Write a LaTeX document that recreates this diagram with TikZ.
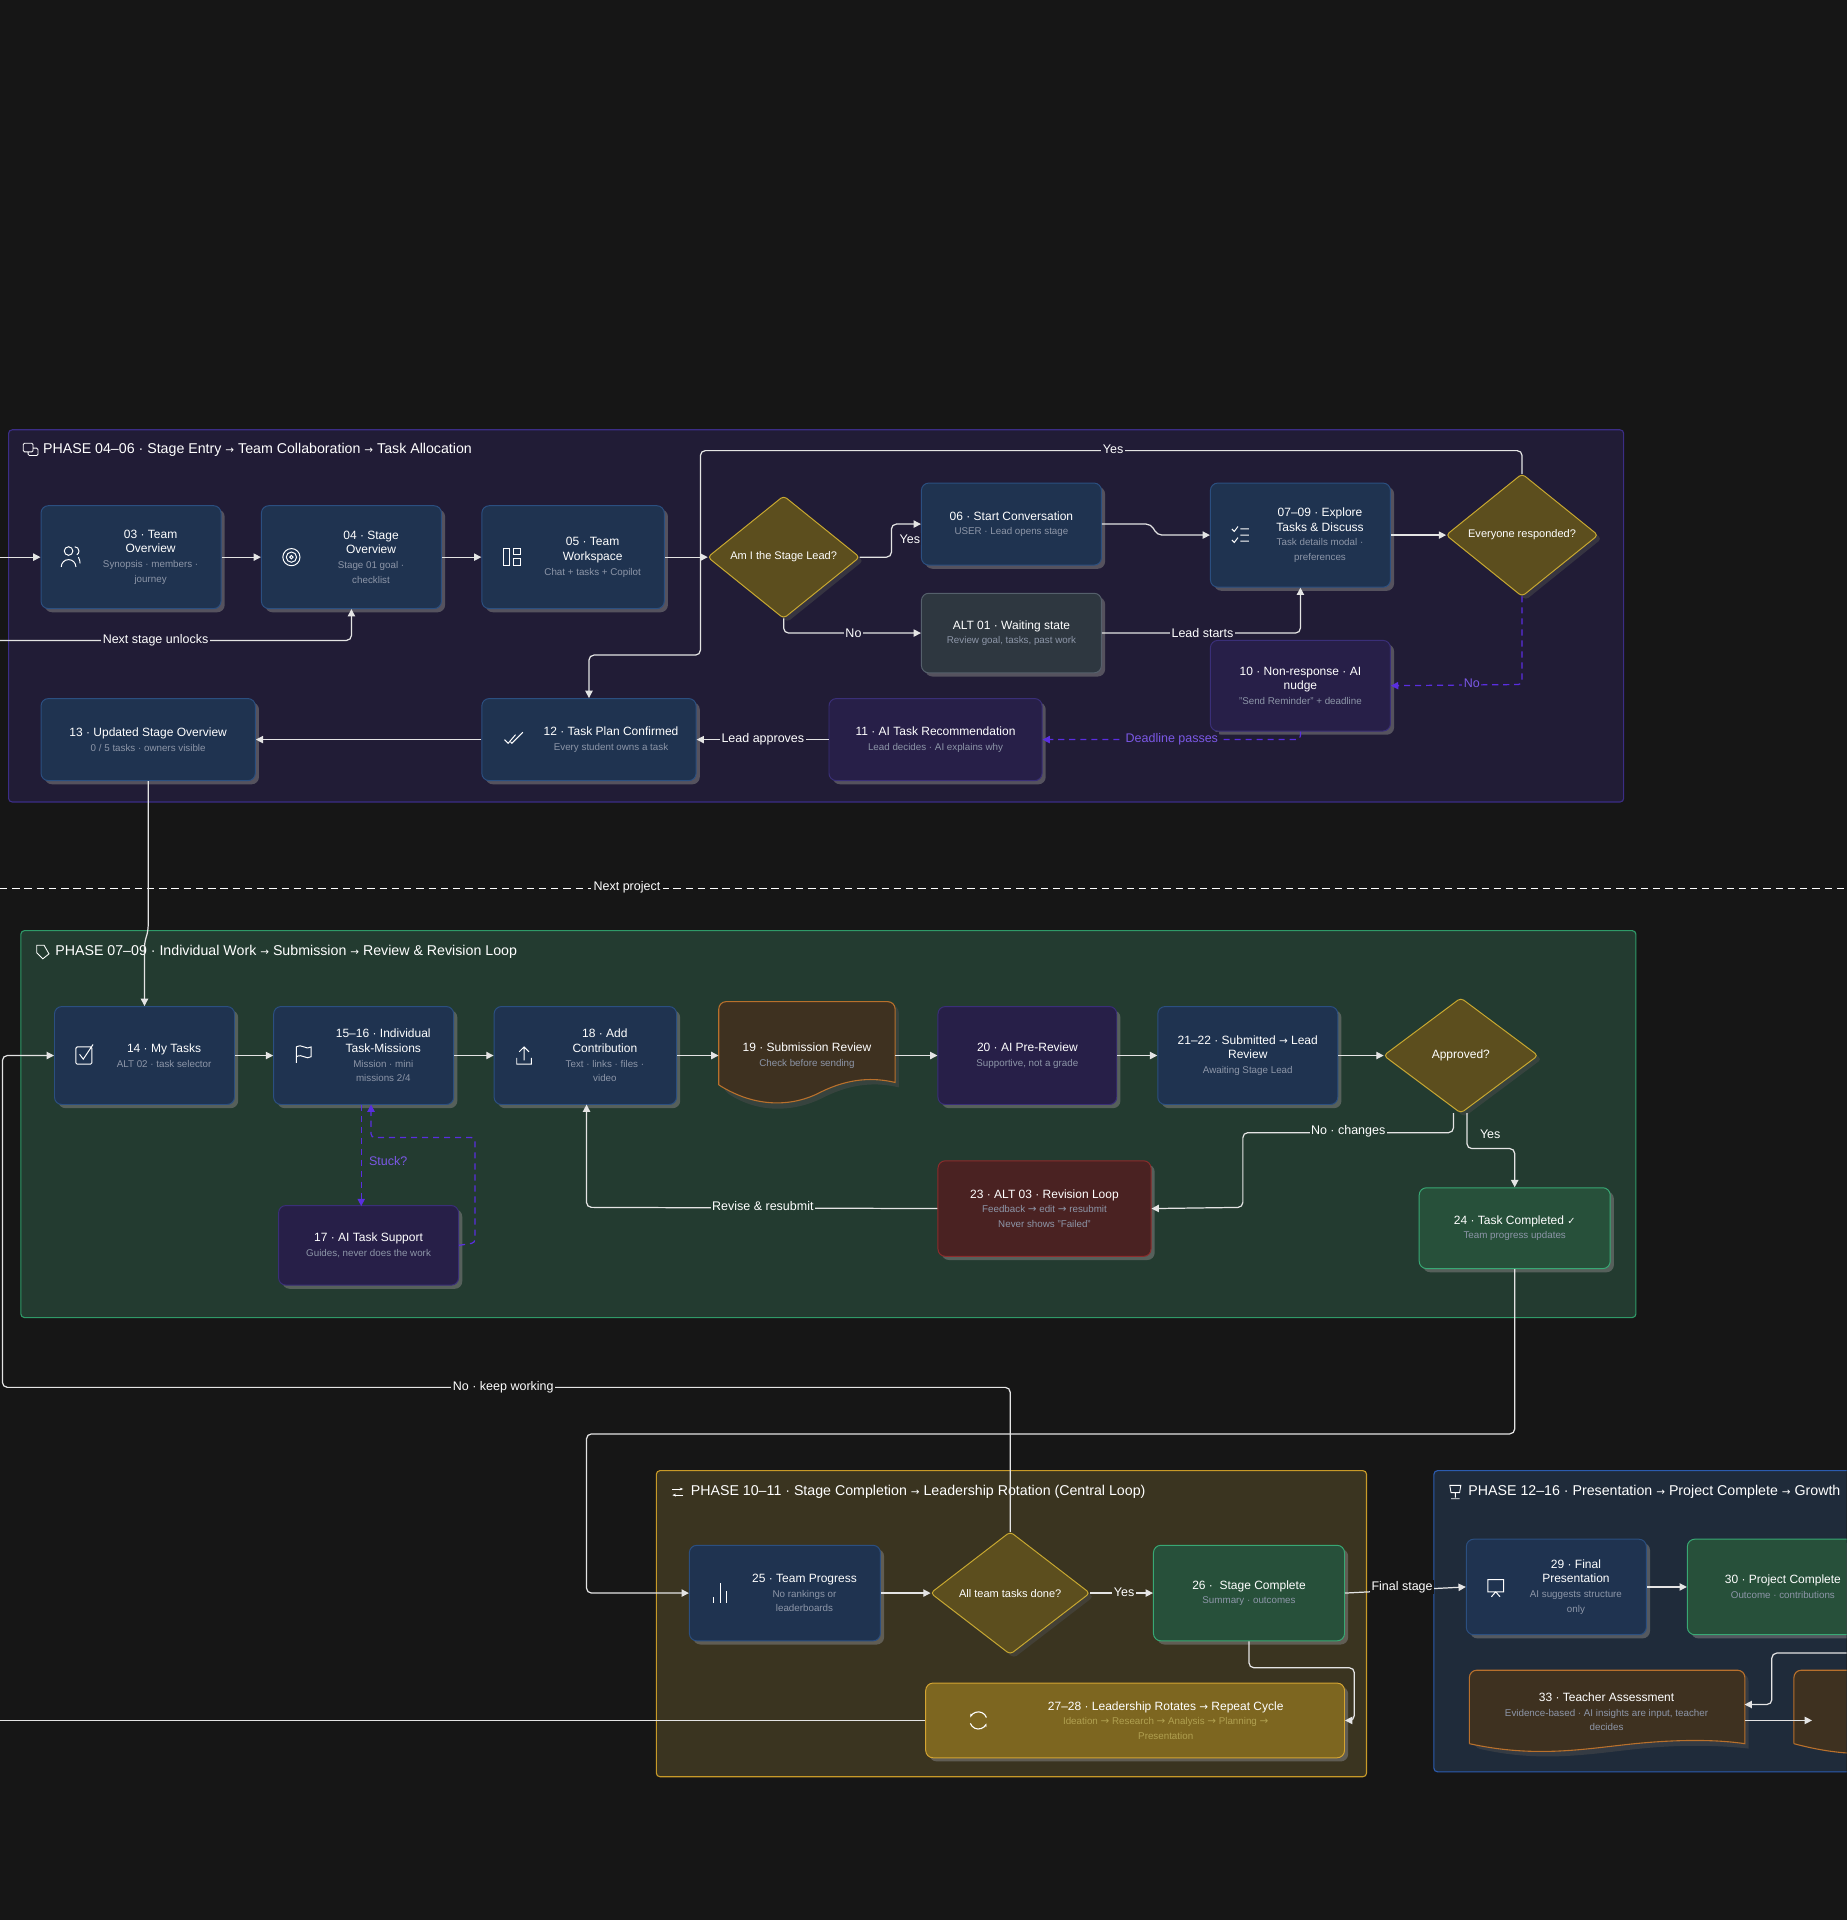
\documentclass[tikz,border=0pt]{standalone}
\usepackage{fontspec}
\setmainfont{Liberation Sans}
\newfontfamily\djv{DejaVu Sans}
\usetikzlibrary{arrows.meta,shadows,calc}
\definecolor{bg}{HTML}{161616}
\definecolor{pafill}{HTML}{211C36}\definecolor{padraw}{HTML}{3B2D86}
\definecolor{pbfill}{HTML}{233B30}\definecolor{pbdraw}{HTML}{2F9A68}
\definecolor{pcfill}{HTML}{3A3420}\definecolor{pcdraw}{HTML}{C89A28}
\definecolor{pdfill}{HTML}{1F2B3A}\definecolor{pddraw}{HTML}{2C5CB0}
\definecolor{blf}{HTML}{1F3350}\definecolor{bld}{HTML}{2B4F80}
\definecolor{grf}{HTML}{2E3740}\definecolor{grd}{HTML}{55606C}
\definecolor{puf}{HTML}{271F48}\definecolor{pud}{HTML}{3A2F78}
\definecolor{dif}{HTML}{5C4E1E}\definecolor{did}{HTML}{C8A830}
\definecolor{brf}{HTML}{3E3120}\definecolor{brd}{HTML}{B8702C}
\definecolor{rdf}{HTML}{4A2222}\definecolor{rdd}{HTML}{8C2C2C}
\definecolor{gnf}{HTML}{27503A}\definecolor{gnd}{HTML}{38A874}
\definecolor{gof}{HTML}{7D6620}\definecolor{god}{HTML}{D4A432}
\definecolor{subc}{HTML}{8D96A8}\definecolor{gosub}{HTML}{B0A050}
\definecolor{ln}{HTML}{E4E4E4}\definecolor{dash}{HTML}{5A2EE0}
\newcommand\subt[1]{{\fontsize{8}{10}\selectfont\color{subc}#1}}
\newcommand\gsub[1]{{\fontsize{8}{10}\selectfont\color{gosub}#1}}
\newcommand\rarr{{\djv\fontsize{8.5}{9}\selectfont →}}
\newcommand\card[7]{\node[card,#2,minimum width=#4,minimum height=#5] (#1) at #3 {};
  \node[txt,xshift=#7] (#1t) at (#1.center) {#6};}
\newcommand\dia[6]{\coordinate (#1) at (#2,#3);
  \coordinate (#1n) at (#2,#3-#5);\coordinate (#1s) at (#2,#3+#5);
  \coordinate (#1e) at (#2+#4,#3);\coordinate (#1w) at (#2-#4,#3);
  \fill[black!70,opacity=.5,rounded corners=3] ($(#1n)+(3,3)$) -- ($(#1e)+(3,3)$) -- ($(#1s)+(3,3)$) -- ($(#1w)+(3,3)$) -- cycle;
  \draw[fill=dif,draw=did,line width=.8,rounded corners=3] (#1n) -- (#1e) -- (#1s) -- (#1w) -- cycle;
  \node[txt] (#1t) at (#1) {#6};}
\tikzset{
  card/.style={draw, line width=.8, rounded corners=6, drop shadow={opacity=.55,shadow xshift=3,shadow yshift=3}},
  blue/.style={fill=blf,draw=bld}, gray/.style={fill=grf,draw=grd}, purp/.style={fill=puf,draw=pud},
  redc/.style={fill=rdf,draw=rdd}, grn/.style={fill=gnf,draw=gnd}, gold/.style={fill=gof,draw=god},
  txt/.style={text=white, align=center, font=\fontsize{9.8}{12}\selectfont, inner sep=0},
  phase/.style={line width=.9, rounded corners=3},
  ptitle/.style={text=white!90, anchor=west, font=\fontsize{11.6}{13}\selectfont, inner sep=0},
  arr/.style={draw=ln, line width=1, rounded corners=4, -{Triangle[length=6,width=6]}},
  lin/.style={draw=ln, line width=1, rounded corners=4},
  darr/.style={draw=dash, line width=1, dash pattern=on 5pt off 4pt, rounded corners=3, -{Triangle[length=6,width=6]}},
  lbl/.style={text=white, font=\fontsize{10.2}{12}\selectfont, inner sep=1.2},
  dlbl/.style={text=dash!80!white, font=\fontsize{10.2}{12}\selectfont, inner sep=1.2},
}
\begin{document}
\begin{tikzpicture}[x=1pt,y=-1pt]
\fill[bg] (0,0) rectangle (1508,1568);
\useasboundingbox (0,0) rectangle (1508,1568);
\clip (0,0) rectangle (1508,1568);
% ---------- phase boxes
\draw[phase,fill=pafill,draw=padraw] (7,351) rectangle (1326,655);
\node[ptitle] (pt1) at (35,367) {PHASE 04–06 · Stage Entry \rarr\ Team Collaboration \rarr\ Task Allocation};
\draw[phase,fill=pbfill,draw=pbdraw] (17,760) rectangle (1336,1076);
\node[ptitle] (pt2) at (45,777) {PHASE 07–09 · Individual Work \rarr\ Submission \rarr\ Review \& Revision Loop};
\draw[phase,fill=pcfill,draw=pcdraw] (536,1201) rectangle (1116,1451);
\node[ptitle] (pt3) at (564,1218) {PHASE 10–11 · Stage Completion \rarr\ Leadership Rotation (Central Loop)};
\draw[phase,fill=pdfill,draw=pddraw] (1171,1201) rectangle (1540,1447);
\node[ptitle] (pt4) at (1199,1218) {PHASE 12–16 · Presentation \rarr\ Project Complete \rarr\ Growth};
% small title icons
\draw[white!80,line width=.7,rounded corners=1] (19,362) rectangle (27,369) (23,369) -- (23,372) -- (31,372) -- (31,366) -- (27,366);
\draw[white!80,line width=.7] (30,772) -- (36,772) -- (40,779) -- (35,783) -- (30,778) -- cycle;
\draw[white!80,line width=.7,-{Stealth[length=3]}] (549,1216) -- (558,1216);
\draw[white!80,line width=.7,-{Stealth[length=3]}] (558,1221) -- (549,1221);
\draw[white!80,line width=.7] (1184,1213) -- (1193,1213) -- (1192,1219) -- (1185,1219) -- cycle (1188.5,1219) -- (1188.5,1223) (1185,1224) -- (1192,1224);
% separator
\draw[white!55,line width=.8,dash pattern=on 6pt off 4pt] (0,726) -- (1508,726);
\node[text=white!60,font=\fontsize{10.2}{12}\selectfont,fill=bg,inner sep=2] (sep) at (512,725) {Next project};
% ---------- phase 1 nodes
\card{n03}{blue}{(107,455)}{147}{84}{03 · Team\\Overview\\\subt{Synopsis · members ·}\\\subt{journey}}{16}
\card{n04}{blue}{(287,455)}{147}{84}{04 · Stage\\Overview\\\subt{Stage 01 goal ·}\\\subt{checklist}}{16}
\card{n05}{blue}{(468,455)}{149}{84}{05 · Team\\Workspace\\\subt{Chat + tasks + Copilot}}{16}
\dia{d1}{640}{455}{62}{50}{\fontsize{9}{10}\selectfont Am I the Stage Lead?}
\card{n06}{blue}{(826,428)}{147}{67}{06 · Start Conversation\\\subt{USER · Lead opens stage}}{0}
\card{alt01}{gray}{(826,517)}{147}{65}{ALT 01 · Waiting state\\\subt{Review goal, tasks, past work}}{0}
\card{n0709}{blue}{(1062,437)}{147}{85}{07–09 · Explore\\Tasks \& Discuss\\\subt{Task details modal ·}\\\subt{preferences}}{16}
\dia{d2}{1243}{437}{62}{50}{\fontsize{9}{10}\selectfont Everyone responded?}
\card{n10}{purp}{(1062,560)}{147}{74}{10 · Non-response · AI\\nudge\\\subt{"Send Reminder" + deadline}}{0}
\card{n11}{purp}{(764,604)}{174}{67}{11 · AI Task Recommendation\\\subt{Lead decides · AI explains why}}{0}
\card{n12}{blue}{(481,604)}{175}{67}{12 · Task Plan Confirmed\\\subt{Every student owns a task}}{18}
\card{n13}{blue}{(121,604)}{175}{67}{13 · Updated Stage Overview\\\subt{0 / 5 tasks · owners visible}}{0}
% icons phase1
\draw[white!85,line width=.8] (56,450) circle (3.5) (50,463) arc (180:360:6 and 6);
\draw[white!85,line width=.8] (61,446.5) arc (-90:60:3.5) (64,455) arc (-40:0:6 and 8);
\draw[white!85,line width=.8] (238,455) circle (7) (238,455) circle (4.2) (238,455) circle (1.4);
\draw[white!85,line width=.8] (411,448) rectangle (416,462) (419,448) rectangle (425,453) (419,456) rectangle (425,462);
\draw[white!85,line width=.8] (1006,432) -- (1008,434) -- (1011,430) (1006,441) -- (1008,443) -- (1011,439) (1013,432) -- (1020,432) (1013,437) -- (1020,437) (1013,442) -- (1020,442);
\draw[white!85,line width=.8] (412,604) -- (415,607) -- (421,600) (417,606) -- (418,607) -- (427,598);
% ---------- phase 1 edges
\coordinate (in1) at (0,455); \coordinate (in2) at (0,523);
\draw[arr] (in1) -- (n03);
\draw[arr] (n03) -- (n04);
\draw[arr] (n04) -- (n05);
\draw[arr] (n05) -- (d1w);
\draw[arr] (d1e) -- (728,455) -- (728,428) -- (n06.west);
\draw[arr] (d1s) -- (640,517) -- (alt01.west);
\draw[arr] (n06.east) -- (940,428) -- (945,437) -- (n0709.west);
\draw[arr] (alt01.east) -- (1062,517) -- (n0709.south);
\draw[arr] (n0709) -- (d2w);
\draw[arr] (d2n) -- (1243,368) -- (572,368) -- (572,535) -- (481,535) -- (n12.north);
\draw[darr] (d2s) -- (1243,559) -- (n10.east);
\draw[darr] (n10.south) -- (1062,604) -- (n11.east);
\draw[arr] (n11) -- (n12);
\draw[arr] (n12) -- (n13);
\draw[arr] (in2) -- (287,523) -- (n04.south);
\node[lbl,fill=pafill] (l1) at (743,440) {Yes};
\node[lbl,fill=pafill] (l2) at (697,517) {No};
\node[lbl,fill=pafill] (l3) at (982,517) {Lead starts};
\node[lbl,fill=pafill] (l4) at (909,367) {Yes};
\node[dlbl,fill=pafill] (l5) at (1202,558) {No};
\node[dlbl,fill=pafill] (l6) at (957,604) {Deadline passes};
\node[lbl,fill=pafill] (l7) at (623,604) {Lead approves};
\node[lbl,fill=pafill] (l8) at (127,523) {Next stage unlocks};
% ---------- phase 2 nodes
\card{n14}{blue}{(118,862)}{147}{80}{14 · My Tasks\\\subt{ALT 02 · task selector}}{16}
\card{n1516}{blue}{(297,862)}{147}{80}{15–16 · Individual\\Task-Missions\\\subt{Mission · mini}\\\subt{missions 2/4}}{16}
\card{n18}{blue}{(478,862)}{149}{80}{18 · Add\\Contribution\\\subt{Text · links · files ·}\\\subt{video}}{16}
\node[inner sep=0,minimum width=144,minimum height=72] (n19) at (659,854) {};
\fill[black!70,opacity=.5] (590,821) [rounded corners=6] -- (590,890) [sharp corners] .. controls (620,910) and (650,908) .. (673,896) .. controls (697,884) and (717,884) .. (734,888) [rounded corners=6] -- (734,821) -- cycle;
\draw[fill=brf,draw=brd,line width=.9] (587,886) [rounded corners=6] -- (587,818) -- (731,818) [sharp corners] -- (731,884) .. controls (714,880) and (694,880) .. (670,892) .. controls (647,904) and (617,905) .. (587,886);
\node[txt] (n19t) at (659,862) {19 · Submission Review\\\subt{Check before sending}};
\card{n20}{purp}{(839,862)}{146}{80}{20 · AI Pre-Review\\\subt{Supportive, not a grade}}{0}
\card{n2122}{blue}{(1019,862)}{147}{80}{21–22 · Submitted \rarr\ Lead\\Review\\\subt{Awaiting Stage Lead}}{0}
\dia{d3}{1193}{862}{63}{47}{Approved?}
\card{n23}{redc}{(853,987)}{174}{78}{23 · ALT 03 · Revision Loop\\\subt{Feedback \rarr\ edit \rarr\ resubmit}\\\subt{Never shows "Failed"}}{0}
\card{n24}{grn}{(1237,1003)}{156}{66}{24 · Task Completed {\djv\fontsize{8}{9}\selectfont ✓}\\\subt{Team progress updates}}{0}
\card{n17}{purp}{(301,1017)}{147}{65}{17 · AI Task Support\\\subt{Guides, never does the work}}{0}
% icons phase2
\draw[white!85,line width=.8,rounded corners=1] (62,855) rectangle (75,869);
\draw[white!85,line width=.8] (65,861) -- (68,865) -- (76,853);
\draw[white!85,line width=.8] (242,868) -- (242,855) .. controls (247,852) and (250,858) .. (254,855) -- (254,863) .. controls (250,866) and (247,860) .. (242,863);
\draw[white!85,line width=.8] (422,864) -- (422,869) -- (434,869) -- (434,864) (428,866) -- (428,855) (424,859) -- (428,855) -- (432,859);
% ---------- phase 3 nodes
\card{n25}{blue}{(641,1301)}{156}{78}{25 · Team Progress\\\subt{No rankings or}\\\subt{leaderboards}}{16}
\dia{d4}{825}{1301}{65}{50}{\fontsize{9}{10}\selectfont All team tasks done?}
\card{n26}{grn}{(1020,1301)}{156}{78}{26 · \ Stage Complete\\\subt{Summary · outcomes}}{0}
\card{n2728}{gold}{(927,1405)}{342}{61}{27–28 · Leadership Rotates \rarr\ Repeat Cycle\\\gsub{Ideation \rarr\ Research \rarr\ Analysis \rarr\ Planning \rarr}\\\gsub{Presentation}}{25}
\draw[white!85,line width=.8] (583,1309) -- (583,1304) (588,1309) -- (588,1293) (593,1309) -- (593,1299);
\draw[white!85,line width=.9,-{Stealth[length=3]}] (799,1405) ++(-20:7) arc (-20:-160:7);
\draw[white!85,line width=.9,-{Stealth[length=3]}] (799,1405) ++(160:7) arc (160:20:7);
% ---------- phase 2 edges
\coordinate (in3) at (2,1133);
\draw[arr] (n13.south) -- (121,760) -- (118,770) -- (n14.north);
\draw[arr] (d4n) -- (825,1133) -- (in3) -- (2,862) -- (n14.west);
\draw[arr] (n14) -- (n1516);
\draw[arr] (n1516) -- (n18);
\draw[arr] (n18) -- (n19.west |- n18);
\draw[arr] (n19.east |- n20) -- (n20);
\draw[arr] (n20) -- (n2122);
\draw[arr] (n2122) -- (d3w);
\draw[arr] ($(d3s)+(-6,0)$) -- (1187,925) -- (1015,925) -- (1015,986) -- (n23.east);
\draw[arr] ($(d3s)+(5,0)$) -- (1198,938) -- (1237,938) -- (n24.north);
\draw[arr] (n23.west) -- (479,986) -- (479,902);
\draw[darr] (295,902) -- (295,985);
\draw[darr] (n17.east) -- (388,1015) -- (388,929) -- (303,929) -- (303,902);
\node[lbl,fill=pbfill] (l9) at (1101,924) {No · changes};
\node[lbl,fill=pbfill] (l10) at (1217,926) {Yes};
\node[lbl,fill=pbfill] (l11) at (623,985) {Revise \& resubmit};
\node[dlbl,fill=pbfill] (l12) at (317,948) {Stuck?};
\node[lbl,fill=bg] (l0) at (411,1133) {No · keep working};
% ---------- phase 3 edges
\coordinate (out1) at (0,1405);
\draw[arr] (n24.south) -- (1237,1171) -- (479,1171) -- (479,1301) -- (n25.west);
\draw[arr] (n25) -- (d4w);
\draw[arr] (d4e) -- (n26.west);
\draw[arr] (n26.south) -- (1020,1362) -- (1106,1362) -- (1106,1405) -- (n2728.east);
\draw[lin] (n2728.west) -- (out1);
\node[lbl,fill=pcfill] (l13) at (918,1300) {Yes};
% ---------- phase 4
\card{n29}{blue}{(1271,1296)}{147}{78}{29 · Final\\Presentation\\\subt{AI suggests structure}\\\subt{only}}{16}
\card{n30}{grn}{(1456,1296)}{156}{78}{30 · Project Complete\\\subt{Outcome · contributions}}{0}
\draw[white!85,line width=.8] (1215,1290) rectangle (1228,1300) (1218,1304) -- (1221.5,1300) -- (1225,1304);
\fill[black!70,opacity=.5] (1203,1367) [rounded corners=6] -- (1203,1427) [sharp corners] .. controls (1260,1440) and (1300,1432) .. (1340,1428) .. controls (1380,1424) and (1410,1426) .. (1428,1428) [rounded corners=6] -- (1428,1367) -- cycle;
\draw[fill=brf,draw=brd,line width=.9] (1200,1424) [rounded corners=6] -- (1200,1364) -- (1425,1364) [sharp corners] -- (1425,1424) .. controls (1405,1421) and (1375,1420) .. (1335,1424) .. controls (1295,1428) and (1255,1436) .. (1200,1424);
\node[inner sep=0,minimum width=225,minimum height=62] (n33) at (1312,1395) {};
\node[txt] (n33t) at (1312,1398) {33 · Teacher Assessment\\\subt{Evidence-based · AI insights are input, teacher}\\\subt{decides}};
\draw[fill=brf,draw=brd,line width=.9] (1465,1424) [rounded corners=6] -- (1465,1364) -- (1560,1364) -- (1560,1430) [sharp corners] .. controls (1520,1434) and (1495,1432) .. (1465,1424);
\node[inner sep=0,minimum width=40,minimum height=62] (n34) at (1500,1395) {};
\coordinate (in4) at (1508,1350);
\draw[arr] (n26.east) -- (n29.west);
\draw[arr] (n29) -- (n30);
\draw[arr] (in4) -- (1447,1350) -- (1447,1392) -- ($(n33.east)+(0,-3)$);
\draw[arr] ($(n33.east)+(0,10)$) -- ($(n34.west)+(0,10)$);
\node[lbl,fill=bg] (l14) at (1145,1296) {Final stage};
\end{tikzpicture}
\end{document}
